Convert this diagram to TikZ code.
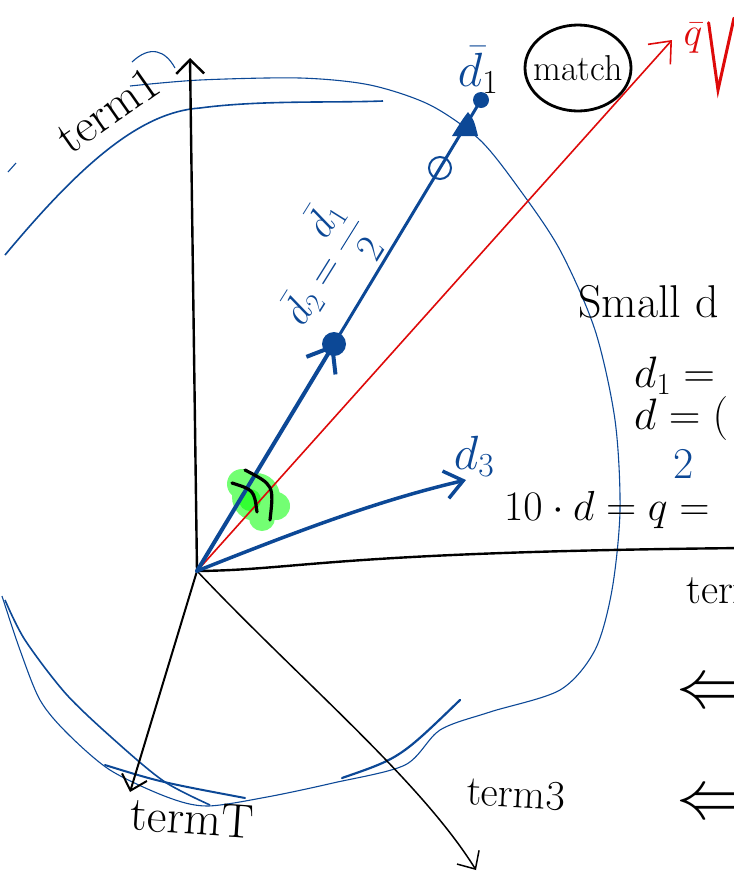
\RequirePackage{fix-cm}
\documentclass[tikz,border=0pt]{standalone}
\usepackage{amsmath}
\usetikzlibrary{arrows.meta, shapes.geometric, positioning}
\definecolor{penblue}{RGB}{12,72,150}
\definecolor{penred}{RGB}{222,10,10}
\tikzstyle{axis} = [black, line width=2.4pt, line cap=round, -{Straight Barb[length=14pt,width=28pt]}]
\tikzstyle{thinaxis} = [black, line width=1.5pt, line cap=round, -{Straight Barb[length=14pt,width=26pt]}]
\tikzstyle{vec} = [penblue, line width=4pt, line cap=round]
\tikzstyle{sketch} = [penblue, line width=1.1pt]
\tikzstyle{hand} = [inner sep=0pt, font=\fontsize{44}{44}\selectfont]

\begin{document}
\begin{tikzpicture}[x=1pt, y=-1pt]
    \useasboundingbox (0,0) rectangle (734,876);
    \clip (0,0) rectangle (734,876);
    % axes
    \coordinate (O) at (197,571);
    \coordinate (t1) at (190,58);
    \coordinate (t2) at (745,548);
    \coordinate (tT) at (130,792);
    \coordinate (t3) at (476,870);
    \coordinate (q) at (672,40);
    \coordinate (d1) at (481,100);
    \coordinate (d2) at (334,344);
    \coordinate (d3) at (466,480);

    % sketched unit circle
    \draw[sketch, line width=1.6pt] (5,255) .. controls (80,165) and (140,112) .. (200,108) .. controls (260,100) and (330,103) .. (383,101);
    \draw[sketch] plot[smooth] coordinates {(130,86) (200,80) (300,78) (370,85) (430,105) (480,140) (520,190) (560,250) (595,330) (615,420) (620,510) (612,590) (595,650) (560,690) (490,712) (440,730) (405,765) (333,783) (267,797) (207,806) (167,797) (110,770) (67,733) (40,700) (20,650) (2,596)};
    \draw[sketch, line width=1.6pt] plot[smooth] coordinates {(5,600) (25,640) (67,695) (120,745) (165,782) (210,805)};
    \draw[sketch, line width=2pt, line cap=round] (105,765) .. controls (160,782) .. (245,798);
    \draw[sketch, line width=2.2pt, line cap=round] (342,778) .. controls (400,758) .. (460,700);
    \draw[sketch] (132,62) .. controls (150,45) and (165,50) .. (175,68);
    \draw[sketch] (8,172) -- (16,163);

    % green angle mark
    \fill[green!55] (256,497) circle (24);
    \fill[green!55] (242,484) circle (15);
    \fill[green!55] (276,506) circle (14);
    \fill[green!55] (262,518) circle (13);
    \fill[green!80] (250,500) circle (11);

    \draw[axis] (O) -- (t1);
    \draw[black, line width=2.4pt, line cap=round] (O) .. controls (300,570) and (330,552) .. (t2);
    \draw[thinaxis, line width=2pt] (O) -- (tT);
    \draw[thinaxis] (O) .. controls (300,680) and (420,780) .. (t3);

    % query and documents
    \draw[penred, line width=1.6pt, line cap=round, -{Straight Barb[length=18pt,width=30pt]}] (O) -- (q);
    \draw[vec, line width=3pt] (d2) -- (d1);
    \draw[vec, -{Straight Barb[length=22pt,width=34pt]}] (O) -- (d2);
    \fill[penblue] (d2) circle (12);
    \fill[penblue] (d1) circle (8);
    \fill[penblue] (452,136) .. controls (462,120) .. (468,112) .. controls (474,120) .. (478,136) -- cycle;
    \draw[penblue, line width=2pt] (440,168) circle (11);
    \draw[vec, line width=3.5pt, -{Straight Barb[length=18pt,width=28pt]}] (O) .. controls (300,530) and (380,500) .. (d3);

    \draw[black, line width=3.2pt, line cap=round] (232,483) .. controls (254,490) .. (257,512);
    \draw[black, line width=3.2pt, line cap=round] (245,470) .. controls (274,485) .. (270,520);

    % labels
    \node[hand, rotate=35, font=\fontsize{48}{48}\selectfont] (lt1) at (108,110) {term1};
    \node[hand, anchor=west, font=\fontsize{42}{42}\selectfont] (lt2) at (686,590) {term2};
    \node[hand, rotate=-4, font=\fontsize{48}{48}\selectfont] (ltT) at (192,818) {termT};
    \node[hand, rotate=-3, font=\fontsize{42}{42}\selectfont] (lt3) at (516,794) {term3};
    \node[hand, penred, font=\fontsize{40}{40}\selectfont] (lq) at (693,38) {$\bar{q}$};
    \draw[penred, line width=3pt, line cap=round] ([xshift=6pt]lq.north east) -- (718,90) -- (734,18);
    \node[hand, font=\fontsize{48}{48}\selectfont] (ld1) at (478,70) {\textcolor{penblue}{$\bar{d}$}$_1$};
    \node[hand, font=\fontsize{36}{36}\selectfont] (match) at (578,68) {match};
    \draw[line width=2.8pt] (match.center) ellipse (53 and 43);
    \node[hand, penblue, rotate=58, font=\fontsize{40}{40}\selectfont] (ld2) at (322,268) {$\bar{d}_2=\dfrac{\bar{d}_1}{2}$};
    \node[hand, penblue, font=\fontsize{48}{48}\selectfont] (ld3) at (474,456) {$d_3$};

    % notes on the right
    \node[hand, anchor=west, font=\fontsize{46}{46}\selectfont] (small) at (578,302) {Small d};
    \node[hand, anchor=west, font=\fontsize{44}{44}\selectfont] (eqa) at (634,376) {$d_1 = $};
    \node[hand, anchor=west, font=\fontsize{44}{44}\selectfont] (eqb) at (634,418) {$d = ($};
    \node[hand, penblue, font=\fontsize{44}{44}\selectfont] (sub2) at (684,464) {2};
    \node[hand, anchor=west, font=\fontsize{42}{42}\selectfont] (eqc) at (504,510) {$10\cdot d = q =$};
    \node[hand, anchor=west, font=\fontsize{70}{70}\selectfont] (impa) at (676,695) {$\Leftarrow$};
    \node[hand, anchor=west, font=\fontsize{70}{70}\selectfont] (impb) at (676,806) {$\Leftarrow$};
\end{tikzpicture}
\end{document}
